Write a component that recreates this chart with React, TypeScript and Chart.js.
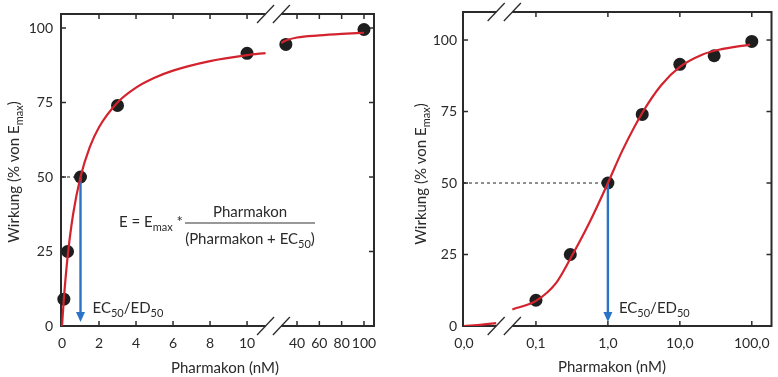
import React, { useEffect, useRef } from "react";
import { Chart, registerables } from "chart.js";

Chart.register(...registerables);

// ---------------- data ----------------
const DOSE_NM = [0.1, 0.3, 1, 3, 10, 30, 100];
const EFFECT_PCT = [9, 25, 50, 74, 91.5, 94.5, 99.5];

const LEFT_CURVE_A_X = [0, 0.1, 0.3, 0.6, 1, 1.5, 2, 3, 4, 5, 6, 8, 10, 11];
const LEFT_CURVE_A_Y = [0, 9, 23, 37.5, 50, 60, 66.7, 75, 80, 83.3, 85.7, 88.9, 90.9, 91.6];
const LEFT_CURVE_B_X = [26, 30, 40, 60, 80, 100];
const LEFT_CURVE_B_Y = [95.0, 95.8, 96.8, 97.5, 98.0, 98.4];

const RIGHT_CURVE_A_X = [0, 0.018, 0.028];
const RIGHT_CURVE_A_Y = [0, 0.5, 1];
const RIGHT_CURVE_B_X = [0.047, 0.1, 0.19, 0.3, 0.55, 1, 1.6, 3, 5.5, 10, 20, 35, 95];
const RIGHT_CURVE_B_Y = [5.8, 8.8, 15, 23.5, 36, 50, 61.5, 74.5, 84.2, 90.6, 94.8, 96.6, 98.4];

const EC50 = 1;
const HALF_EFFECT = 50;

const LEFT_X_TICKS = [0, 2, 4, 6, 8, 10, 40, 60, 80, 100];
const LEFT_X_LABELS = ["0", "2", "4", "6", "8", "10", "40", "60", "80", "100"];
const RIGHT_X_TICKS = [0, 0.1, 1, 10, 100];
const RIGHT_X_LABELS = ["0,0", "0,1", "1,0", "10,0", "100,0"];
const Y_TICKS = [0, 25, 50, 75, 100];
const Y_LABELS = ["0", "25", "50", "75", "100"];

const LEFT_BREAK: [number, number] = [11, 26];
const RIGHT_BREAK: [number, number] = [0.028, 0.047];

// ---------------- style ----------------
const FONT = "Lato, 'Noto Sans', 'DejaVu Sans', sans-serif";
const TEXT = "#2a2a2a";
const FRAME = "#2b2b2b";
const RED = "#d3232e";
const BLUE = "#2a74c6";
const DOT = "#1e1e1e";

// broken-axis transforms (display coordinate)
const leftMap = (x: number) => (x <= 12 ? x : 12.7 + (x - 40) * 0.0603);
const rightMap = (x: number) => (x <= 0 ? -2 : Math.log10(x));

type Part = { t: string; sub?: boolean };

function drawRich(
  ctx: CanvasRenderingContext2D,
  parts: Part[],
  x: number,
  y: number,
  size: number,
  align: "left" | "center" = "left"
) {
  const sub = Math.round(size * 0.7);
  ctx.textBaseline = "alphabetic";
  ctx.textAlign = "left";
  let w = 0;
  for (const p of parts) {
    ctx.font = `${p.sub ? sub : size}px ${FONT}`;
    w += ctx.measureText(p.t).width;
  }
  let cx = align === "center" ? x - w / 2 : x;
  for (const p of parts) {
    ctx.font = `${p.sub ? sub : size}px ${FONT}`;
    ctx.fillText(p.t, cx, y + (p.sub ? size * 0.27 : 0));
    cx += ctx.measureText(p.t).width;
  }
  return w;
}

interface PanelSpec {
  map: (x: number) => number;
  brk: [number, number];
  xTicks: number[];
  xLabels: string[];
  xMin: number;
  xMax: number;
  yMax: number;
  padTop: number;
  padRight: number;
  yWidth: number;
  yPad: number;
  yTitle: [number, number];
  xTitle: [number, number];
  labelDx: number;
  formula: boolean;
  curveA: [number[], number[]];
  curveB: [number[], number[]];
}

const POINTS_INDEX = 2;

function panelPlugin(spec: PanelSpec) {
  const seg = (ctx: CanvasRenderingContext2D, x1: number, y1: number, x2: number, y2: number) => {
    ctx.beginPath();
    ctx.moveTo(x1, y1);
    ctx.lineTo(x2, y2);
    ctx.stroke();
  };
  return {
    id: "panel",
    beforeDatasetsDraw(chart: any) {
      const { ctx, chartArea: a } = chart;
      const xs = chart.scales.x;
      const ys = chart.scales.y;
      const g1 = xs.getPixelForValue(spec.map(spec.brk[0]));
      const g2 = xs.getPixelForValue(spec.map(spec.brk[1]));
      ctx.save();
      ctx.strokeStyle = FRAME;
      ctx.lineWidth = 2;
      seg(ctx, a.left, a.top - 1, a.left, a.bottom + 1);
      seg(ctx, a.right, a.top - 1, a.right, a.bottom + 1);
      for (const yy of [a.top, a.bottom]) {
        seg(ctx, a.left, yy, g1, yy);
        seg(ctx, g2, yy, a.right, yy);
      }
      ctx.lineWidth = 1.3;
      for (const gx of [g1, g2]) for (const yy of [a.top, a.bottom]) seg(ctx, gx - 8.5, yy + 9, gx + 8.5, yy - 9);
      ctx.lineWidth = 1.5;
      const T = 5;
      spec.xTicks.forEach((v) => {
        const px = xs.getPixelForValue(spec.map(v));
        if (px - a.left < 3) return;
        seg(ctx, px, a.bottom, px, a.bottom - T);
        seg(ctx, px, a.top, px, a.top + T);
      });
      Y_TICKS.forEach((v) => {
        if (v === 0) return;
        const py = ys.getPixelForValue(v);
        seg(ctx, a.left, py, a.left + T, py);
        seg(ctx, a.right, py, a.right - T, py);
      });
      // dashed guide at half-maximal effect
      ctx.lineWidth = 1;
      ctx.strokeStyle = "#222";
      ctx.setLineDash([3, 3]);
      const ex = xs.getPixelForValue(spec.map(EC50));
      const hy = ys.getPixelForValue(HALF_EFFECT);
      seg(ctx, a.left, hy, ex, hy);
      ctx.restore();
    },
    afterDatasetDraw(chart: any, args: any) {
      if (args.index !== POINTS_INDEX) return;
      const { ctx } = chart;
      const xs = chart.scales.x;
      const ys = chart.scales.y;
      const ex = xs.getPixelForValue(spec.map(EC50));
      const y50 = ys.getPixelForValue(HALF_EFFECT);
      const tip = ys.getPixelForValue(0) - 4;
      ctx.save();
      ctx.strokeStyle = BLUE;
      ctx.lineWidth = 2.4;
      seg(ctx, ex, y50, ex, tip - 7);
      ctx.fillStyle = BLUE;
      ctx.beginPath();
      ctx.moveTo(ex - 4.5, tip - 10);
      ctx.lineTo(ex + 4.5, tip - 10);
      ctx.lineTo(ex, tip);
      ctx.closePath();
      ctx.fill();
      ctx.restore();
    },
    afterDraw(chart: any) {
      const { ctx, chartArea: a } = chart;
      const xs = chart.scales.x;
      const ys = chart.scales.y;
      ctx.save();
      ctx.fillStyle = TEXT;
      // EC50 / ED50 label
      const ex = xs.getPixelForValue(spec.map(EC50));
      const y0 = ys.getPixelForValue(0);
      drawRich(ctx, [{ t: "EC" }, { t: "50", sub: true }, { t: "/ED" }, { t: "50", sub: true }], ex + spec.labelDx, y0 - 13, 15);
      // x title
      drawRich(ctx, [{ t: "Pharmakon (nM)" }], spec.xTitle[0], spec.xTitle[1] + 5, 15, "center");
      // y title
      ctx.save();
      ctx.translate(spec.yTitle[0], spec.yTitle[1]);
      ctx.rotate(-Math.PI / 2);
      drawRich(ctx, [{ t: "Wirkung (% von E" }, { t: "max", sub: true }, { t: ")" }], 0, 5, 15, "center");
      ctx.restore();
      if (spec.formula) {
        const cx = a.left + 189;
        const ly = a.top + 209;
        drawRich(ctx, [{ t: "E = E" }, { t: "max", sub: true }, { t: " *" }], a.left + 58, ly + 4, 15);
        ctx.strokeStyle = "#333";
        ctx.lineWidth = 1;
        ctx.beginPath();
        ctx.moveTo(a.left + 124, ly);
        ctx.lineTo(a.left + 254, ly);
        ctx.stroke();
        drawRich(ctx, [{ t: "Pharmakon" }], cx, ly - 6, 15, "center");
        drawRich(ctx, [{ t: "(Pharmakon + EC" }, { t: "50", sub: true }, { t: ")" }], cx, ly + 21, 15, "center");
      }
      ctx.restore();
    },
  };
}

function buildConfig(spec: PanelSpec): any {
  const pts = DOSE_NM.map((d, i) => ({ x: spec.map(d), y: EFFECT_PCT[i] }));
  const curve = (c: [number[], number[]]) => c[0].map((x, i) => ({ x: spec.map(x), y: c[1][i] }));
  const curveStyle = {
    showLine: true,
    borderColor: RED,
    borderWidth: 2.2,
    pointRadius: 0,
    cubicInterpolationMode: "monotone",
    fill: false,
  };
  return {
    type: "scatter",
    data: {
      datasets: [
        { data: curve(spec.curveA), ...curveStyle },
        { data: curve(spec.curveB), ...curveStyle },
        {
          data: pts,
          showLine: false,
          pointRadius: 6.5,
          pointBackgroundColor: DOT,
          pointBorderWidth: 0,
          clip: false,
        },
      ],
    },
    options: {
      animation: false,
      responsive: false,
      devicePixelRatio: 1,
      events: [],
      layout: { padding: { top: spec.padTop, right: spec.padRight, left: 0, bottom: 0 } },
      plugins: { legend: { display: false }, tooltip: { enabled: false } },
      scales: {
        x: {
          type: "linear",
          min: spec.xMin,
          max: spec.xMax,
          grid: { display: false, drawTicks: false },
          border: { display: false },
          afterBuildTicks: (s: any) => {
            s.ticks = spec.xTicks.map((v) => ({ value: spec.map(v) }));
          },
          ticks: {
            autoSkip: false,
            maxRotation: 0,
            padding: 9,
            color: TEXT,
            font: { family: FONT, size: 14 },
            callback: (_v: any, i: number) => spec.xLabels[i],
          },
          afterFit: (s: any) => {
            s.height = 51;
            s.paddingLeft = 0;
            s.paddingRight = 0;
          },
        },
        y: {
          type: "linear",
          min: 0,
          max: spec.yMax,
          grid: { display: false, drawTicks: false },
          border: { display: false },
          afterBuildTicks: (s: any) => {
            s.ticks = Y_TICKS.map((v) => ({ value: v }));
          },
          ticks: {
            autoSkip: false,
            padding: spec.yPad,
            color: TEXT,
            font: { family: FONT, size: 14 },
            callback: (_v: any, i: number) => Y_LABELS[i],
          },
          afterFit: (s: any) => {
            s.width = spec.yWidth;
            s.paddingTop = 0;
            s.paddingBottom = 0;
          },
        },
      },
    },
    plugins: [panelPlugin(spec)],
  };
}

const LEFT_SPEC: PanelSpec = {
  map: leftMap,
  brk: LEFT_BREAK,
  xTicks: LEFT_X_TICKS,
  xLabels: LEFT_X_LABELS,
  xMin: -0.054,
  xMax: 16.86,
  yMax: 104.7,
  padTop: 14,
  padRight: 16,
  yWidth: 61,
  yPad: 8,
  yTitle: [14, 172],
  xTitle: [225, 368],
  labelDx: 12,
  formula: true,
  curveA: [LEFT_CURVE_A_X, LEFT_CURVE_A_Y],
  curveB: [LEFT_CURVE_B_X, LEFT_CURVE_B_Y],
};

const RIGHT_SPEC: PanelSpec = {
  map: rightMap,
  brk: RIGHT_BREAK,
  xTicks: RIGHT_X_TICKS,
  xLabels: RIGHT_X_LABELS,
  xMin: -2.014,
  xMax: 2.274,
  yMax: 109.8,
  padTop: 12,
  padRight: 2,
  yWidth: 73,
  yPad: 6,
  yTitle: [31, 174],
  xTitle: [222, 367],
  labelDx: 11,
  formula: false,
  curveA: [RIGHT_CURVE_A_X, RIGHT_CURVE_A_Y],
  curveB: [RIGHT_CURVE_B_X, RIGHT_CURVE_B_Y],
};

function Panel({ spec, left, width }: { spec: PanelSpec; left: number; width: number }) {
  const ref = useRef<HTMLCanvasElement | null>(null);
  useEffect(() => {
    if (!ref.current) return;
    const chart = new Chart(ref.current, buildConfig(spec));
    return () => chart.destroy();
  }, [spec]);
  return (
    <canvas
      ref={ref}
      width={width}
      height={377}
      style={{ position: "absolute", left, top: 0, width, height: 377 }}
    />
  );
}

export default function App() {
  return (
    <div style={{ position: "absolute", left: 0, top: 0, width: 778, height: 377, background: "#fff", overflow: "hidden" }}>
      <Panel spec={LEFT_SPEC} left={0} width={390} />
      <Panel spec={RIGHT_SPEC} left={390} width={388} />
    </div>
  );
}
